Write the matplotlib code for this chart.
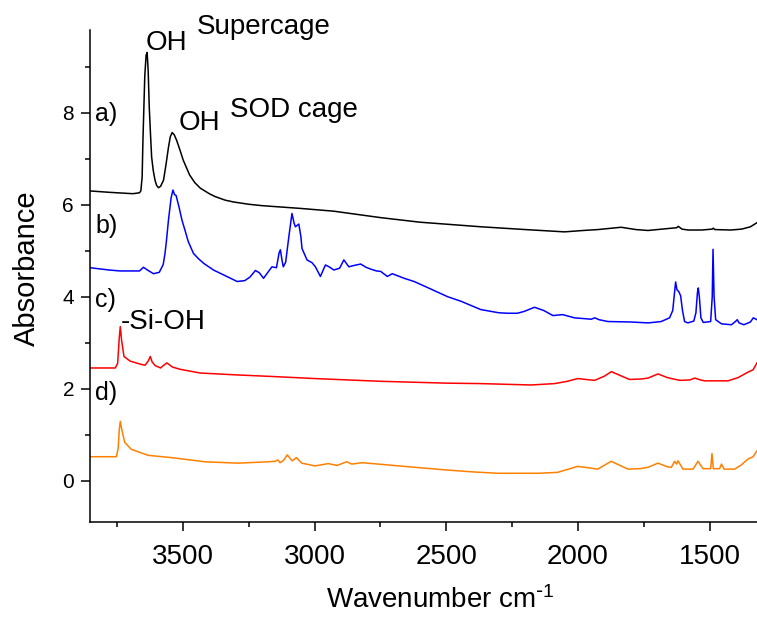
import numpy as np
import matplotlib
matplotlib.use('Agg')
import matplotlib.pyplot as plt

plt.rcParams['font.family'] = ['Liberation Sans', 'DejaVu Sans']
plt.rcParams['mathtext.default'] = 'regular'

# spectrum a) - black
wn_a = [3853, 3780, 3690, 3665, 3660, 3655, 3652, 3648, 3645, 3640, 3636, 3632,
        3628, 3623, 3619, 3613, 3606, 3600, 3593, 3585, 3574, 3565, 3555, 3548,
        3541, 3533, 3524, 3512, 3499, 3475, 3455, 3434, 3400, 3379, 3340, 3308,
        3250, 3200, 3054, 2928, 2750, 2600, 2367, 2200, 2051, 1980, 1924, 1836,
        1780, 1734, 1680, 1625, 1619, 1605, 1581, 1530, 1490, 1486, 1480, 1420,
        1378, 1345, 1320]
abs_a = [6.30, 6.27, 6.24, 6.26, 6.30, 6.60, 7.40, 8.20, 8.80, 9.25, 9.31, 8.90,
         8.12, 7.50, 7.04, 6.75, 6.53, 6.42, 6.37, 6.40, 6.53, 6.85, 7.25, 7.48,
         7.57, 7.52, 7.40, 7.20, 6.97, 6.65, 6.48, 6.36, 6.24, 6.18, 6.10, 6.06,
         6.01, 5.98, 5.92, 5.86, 5.72, 5.62, 5.52, 5.46, 5.41, 5.44, 5.46, 5.51,
         5.46, 5.44, 5.47, 5.50, 5.53, 5.47, 5.45, 5.45, 5.47, 5.49, 5.46, 5.45,
         5.47, 5.52, 5.61]

# spectrum b) - blue
wn_b = [3853, 3780, 3739, 3665, 3650, 3635, 3612, 3590, 3575, 3568, 3563, 3555,
        3545, 3538, 3532, 3526, 3515, 3504, 3490, 3480, 3460, 3440, 3420, 3384,
        3330, 3294, 3265, 3245, 3225, 3210, 3194, 3175, 3162, 3145, 3135, 3130,
        3124, 3119, 3110, 3098, 3086, 3078, 3073, 3060, 3052, 3048, 3029, 3010,
        2997, 2978, 2959, 2945, 2927, 2905, 2889, 2870, 2850, 2825, 2805, 2787,
        2765, 2749, 2724, 2705, 2660, 2622, 2560, 2495, 2444, 2369, 2300, 2267,
        2230, 2204, 2165, 2130, 2095, 2058, 2013, 1970, 1950, 1936, 1920, 1886,
        1800, 1733, 1684, 1652, 1640, 1633, 1629, 1624, 1617, 1610, 1603, 1595,
        1583, 1560, 1552, 1546, 1543, 1539, 1533, 1524, 1496, 1490, 1487, 1483,
        1477, 1455, 1417, 1400, 1395, 1388, 1370, 1345, 1334, 1320]
abs_b = [4.63, 4.58, 4.56, 4.56, 4.64, 4.58, 4.50, 4.53, 4.70, 4.95, 5.20, 5.67,
         6.15, 6.32, 6.22, 6.20, 5.95, 5.67, 5.40, 5.20, 4.94, 4.82, 4.72, 4.58,
         4.43, 4.33, 4.35, 4.43, 4.57, 4.52, 4.40, 4.55, 4.65, 4.63, 4.95, 5.02,
         4.80, 4.65, 4.75, 5.30, 5.81, 5.60, 5.52, 5.58, 5.30, 5.05, 4.80, 4.74,
         4.65, 4.44, 4.69, 4.65, 4.58, 4.62, 4.80, 4.65, 4.68, 4.71, 4.64, 4.60,
         4.56, 4.55, 4.44, 4.50, 4.40, 4.33, 4.17, 4.00, 3.90, 3.72, 3.65, 3.64,
         3.64, 3.68, 3.77, 3.70, 3.59, 3.61, 3.54, 3.52, 3.51, 3.54, 3.50, 3.46,
         3.45, 3.43, 3.46, 3.54, 3.70, 4.10, 4.32, 4.15, 4.11, 4.02, 3.70, 3.46,
         3.43, 3.47, 3.65, 4.10, 4.19, 4.00, 3.54, 3.44, 3.46, 4.00, 5.03, 4.00,
         3.50, 3.41, 3.39, 3.47, 3.50, 3.43, 3.39, 3.45, 3.54, 3.50]

# spectrum c) - red
wn_c = [3853, 3757, 3748, 3742, 3738, 3733, 3724, 3701, 3660, 3644, 3632, 3624,
        3617, 3605, 3585, 3575, 3561, 3540, 3510, 3434, 3300, 3181, 3000, 2749,
        2500, 2369, 2178, 2089, 2040, 2001, 1970, 1937, 1900, 1873, 1845, 1804,
        1760, 1734, 1696, 1660, 1613, 1575, 1556, 1535, 1518, 1430, 1392, 1354,
        1335, 1320]
abs_c = [2.45, 2.45, 2.55, 3.10, 3.35, 3.05, 2.70, 2.60, 2.53, 2.51, 2.60, 2.70,
         2.58, 2.50, 2.45, 2.50, 2.56, 2.47, 2.42, 2.34, 2.30, 2.27, 2.22, 2.16,
         2.12, 2.11, 2.08, 2.11, 2.16, 2.22, 2.20, 2.18, 2.27, 2.37, 2.30, 2.20,
         2.21, 2.23, 2.32, 2.24, 2.18, 2.19, 2.23, 2.19, 2.17, 2.17, 2.24, 2.36,
         2.41, 2.56]

# spectrum d) - orange
wn_d = [3853, 3753, 3746, 3742, 3738, 3732, 3721, 3696, 3632, 3543, 3417, 3290,
        3176, 3150, 3140, 3131, 3118, 3104, 3085, 3069, 3049, 2999, 2948, 2915,
        2878, 2859, 2820, 2719, 2600, 2496, 2400, 2305, 2150, 2077, 2030, 2001,
        1960, 1925, 1874, 1840, 1810, 1765, 1734, 1696, 1660, 1645, 1633, 1626,
        1620, 1601, 1563, 1544, 1525, 1496, 1491, 1486, 1462, 1455, 1445, 1405,
        1380, 1354, 1335, 1320]
abs_d = [0.52, 0.52, 0.70, 1.10, 1.29, 1.10, 0.83, 0.68, 0.55, 0.50, 0.41, 0.38,
         0.41, 0.42, 0.45, 0.39, 0.44, 0.56, 0.43, 0.50, 0.38, 0.32, 0.37, 0.33,
         0.41, 0.36, 0.39, 0.34, 0.28, 0.23, 0.19, 0.16, 0.16, 0.18, 0.26, 0.31,
         0.28, 0.25, 0.42, 0.33, 0.25, 0.26, 0.29, 0.38, 0.30, 0.29, 0.42, 0.36,
         0.43, 0.25, 0.25, 0.42, 0.26, 0.26, 0.59, 0.26, 0.26, 0.36, 0.25, 0.25,
         0.34, 0.47, 0.52, 0.65]

series = [(wn_a, abs_a, 'black'), (wn_b, abs_b, '#0000ff'),
          (wn_c, abs_c, '#ff0000'), (wn_d, abs_d, '#ff8000')]

# text labels: (text, wavenumber, absorbance)
curve_labels = [('a)', 3834, 7.98), ('b)', 3834, 5.53), ('c)', 3834, 3.93), ('d)', 3834, 1.90)]
peak_labels = [('OH', 3640, 9.52), ('Supercage', 3446, 9.87), ('OH', 3518, 7.77),
               ('SOD cage', 3320, 8.07), ('-Si-OH', 3736, 3.46)]

fig = plt.figure(figsize=(7.57, 6.21), dpi=100)
ax = fig.add_axes([0.1189, 0.1594, 0.8811, 0.7923])

for wn, ab, col in series:
    ax.plot(wn, ab, color=col, lw=1.1)

for txt, x, y in curve_labels:
    ax.text(x, y, txt, fontsize=18, ha='left', va='center')
for txt, x, y in peak_labels:
    ax.text(x, y, txt, fontsize=20, ha='left', va='center', clip_on=False)

ax.set_xlim(3853, 1320)
ax.set_ylim(-0.9, 9.8)
ax.set_xticks([3500, 3000, 2500, 2000, 1500])
ax.set_xticks([3750, 3250, 2750, 2250, 1750], minor=True)
ax.set_yticks([0, 2, 4, 6, 8])
ax.set_yticks([1, 3, 5, 7, 9], minor=True)

ax.spines['top'].set_visible(False)
ax.spines['right'].set_visible(False)
for s in ['left', 'bottom']:
    ax.spines[s].set_linewidth(1.1)
ax.tick_params(which='major', direction='out', length=6.5, width=1.1)
ax.tick_params(which='minor', direction='out', length=3.8, width=1.1)
ax.tick_params(axis='x', which='major', labelsize=20, pad=9)
ax.tick_params(axis='y', which='major', labelsize=15, pad=5)

ax.set_xlabel(r'Wavenumber cm$^{\text{-}1}$', fontsize=20, va='center')
ax.xaxis.set_label_coords(0.525, -0.159)
ax.set_ylabel('Absorbance', fontsize=21, va='center')
ax.yaxis.set_label_coords(-0.0945, 0.516)

fig.savefig('out.png', dpi=100)
